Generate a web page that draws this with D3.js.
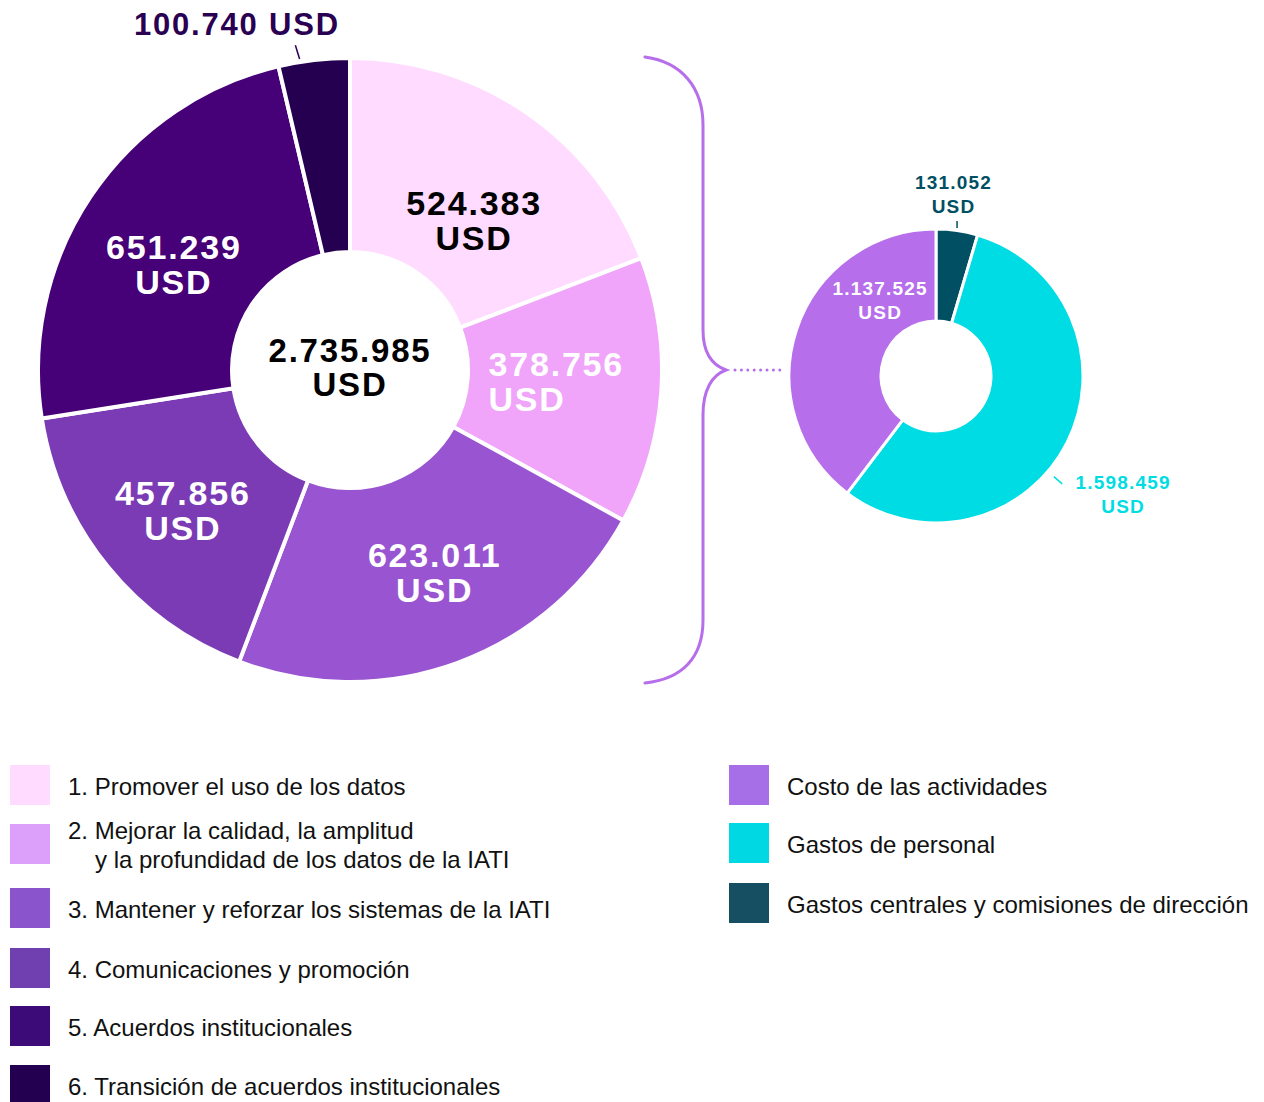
<!DOCTYPE html>
<html>
<head>
<meta charset="utf-8">
<script src="https://cdn.jsdelivr.net/npm/d3@7/dist/d3.min.js"></script>
<style>
  html, body { margin: 0; padding: 0; background: #fff; }
  svg { display: block; }
  text { font-family: "Liberation Sans", Arial, sans-serif; }
</style>
</head>
<body>
<svg id="chart" width="1264" height="1102"></svg>
<script>
// ---------- DATA ----------
const bigCategories = [
  "1. Promover el uso de los datos",
  "2. Mejorar la calidad, la amplitud|y la profundidad de los datos de la IATI",
  "3. Mantener y reforzar los sistemas de la IATI",
  "4. Comunicaciones y promoción",
  "5. Acuerdos institucionales",
  "6. Transición de acuerdos institucionales"
];
const bigValues = [524383, 378756, 623011, 457856, 651239, 100740];
const bigColors = ["#FFDBFF", "#F0A4FA", "#9955D1", "#7B3BB5", "#460078", "#250050"];
const bigLegendColors = ["#FFDBFF", "#DDA0FA", "#8A55CC", "#7140B0", "#3D0B78", "#230050"];
const bigLabelColors = ["#000000", "#FFFFFF", "#FFFFFF", "#FFFFFF", "#FFFFFF", "#2A0052"];

const smallCategories = [
  "Gastos centrales y comisiones de dirección",
  "Gastos de personal",
  "Costo de las actividades"
];
const smallValues = [131052, 1598459, 1137525];
const smallColors = ["#004F63", "#00DCE3", "#B76EEB"];
const smallLegendColors = ["#174F62", "#00D9E3", "#A66FE8"];
const smallLabelColors = ["#004F63", "#00DCE3", "#FFFFFF"];
const smallLegendOrder = [2, 1, 0];

const currency = "USD";

// ---------- LAYOUT ----------
const svg = d3.select("#chart");
const fmt = d3.formatLocale({decimal: ",", thousands: ".", grouping: [3], currency: ["", ""]}).format(",d");

const big = {cx: 350, cy: 370, r0: 118, r1: 312};
const small = {cx: 936, cy: 376, r0: 55, r1: 147};

// label placement: [mode, dx, dy, anchor]
const bigLabelPlace = [
  ["in", 8, 19, "middle"],
  ["in", -66, -3, "start"],
  ["in", 14, 10, "middle"],
  ["in", -8, 11, "middle"],
  ["in", -6, 9, "middle"],
  ["out", -75, -18, "middle"]
];
const smallLabelPlace = [
  ["out", -9, 1, "middle"],
  ["out", 22, 35, "middle"],
  ["in", 39, -44, "middle"]
];

const pie = d3.pie().sort(null).value(d => d).startAngle(0).endAngle(2 * Math.PI);

// ---------- BIG DONUT ----------
const gBig = svg.append("g").attr("transform", `translate(${big.cx},${big.cy})`);
const bigArc = d3.arc().innerRadius(big.r0).outerRadius(big.r1);
const bigLabelArc = d3.arc().innerRadius(205).outerRadius(205);
const bigOutArc = d3.arc().innerRadius(330).outerRadius(330);
const bigArcs = pie(bigValues);

gBig.selectAll("path.slice").data(bigArcs).join("path")
  .attr("class", "slice")
  .attr("d", bigArc)
  .attr("fill", (d, i) => bigColors[i])
  .attr("stroke", "#fff")
  .attr("stroke-width", 4)
  .attr("stroke-linejoin", "round");

bigArcs.forEach((a, i) => {
  const [mode, dx, dy, anchor] = bigLabelPlace[i];
  const label = fmt(a.data);
  if (mode === "in") {
    const [x, y] = bigLabelArc.centroid(a);
    const t = gBig.append("text")
      .attr("text-anchor", anchor)
      .attr("font-size", 34).attr("font-weight", 700)
      .attr("letter-spacing", 1.8)
      .attr("fill", bigLabelColors[i]);
    t.append("tspan").attr("x", x + dx).attr("y", y + dy - 17.5 + 12).text(label);
    t.append("tspan").attr("x", x + dx).attr("y", y + dy + 17.5 + 12).text(currency);
  } else {
    const [x, y] = bigOutArc.centroid(a);
    gBig.append("text")
      .attr("text-anchor", anchor)
      .attr("x", x + dx).attr("y", y + dy + 11)
      .attr("font-size", 31).attr("font-weight", 700)
      .attr("letter-spacing", 1.8)
      .attr("fill", bigLabelColors[i])
      .text(label + " " + currency);
    // leader line
    const ang = (a.startAngle + a.endAngle) / 2 - 0.045;
    const p1 = [Math.sin(ang) * 315, -Math.cos(ang) * 315];
    const p2 = [Math.sin(ang) * 329 - 2, -Math.cos(ang) * 329];
    gBig.append("line")
      .attr("x1", p1[0]).attr("y1", p1[1]).attr("x2", p2[0]).attr("y2", p2[1])
      .attr("stroke", bigLabelColors[i]).attr("stroke-width", 1.5);
  }
});

// total in center
const total = d3.sum(bigValues);
const tc = gBig.append("text").attr("text-anchor", "middle")
  .attr("font-size", 33).attr("font-weight", 700).attr("letter-spacing", 1.8).attr("fill", "#000");
tc.append("tspan").attr("x", 0).attr("y", -20 + 11.5).text(fmt(total));
tc.append("tspan").attr("x", 0).attr("y", 14 + 11.5).text(currency);

// ---------- BRACE ----------
const braceColor = "#B76EEB";
const bp = d3.path();
bp.moveTo(645, 57);
bp.bezierCurveTo(682, 62, 703, 88, 703, 125);
bp.lineTo(703, 330);
bp.bezierCurveTo(703, 352, 712, 365, 726, 370);
bp.bezierCurveTo(712, 375, 703, 390, 703, 415);
bp.lineTo(703, 620);
bp.bezierCurveTo(703, 658, 682, 679, 645, 683);
svg.append("path").attr("d", bp.toString())
  .attr("fill", "none").attr("stroke", braceColor).attr("stroke-width", 3).attr("stroke-linecap", "round");
svg.append("line")
  .attr("x1", 735).attr("y1", 370).attr("x2", 786).attr("y2", 370)
  .attr("stroke", braceColor).attr("stroke-width", 3)
  .attr("stroke-linecap", "round").attr("stroke-dasharray", "0 6.4");

// ---------- SMALL DONUT ----------
const gSmall = svg.append("g").attr("transform", `translate(${small.cx},${small.cy})`);
const smallArc = d3.arc().innerRadius(small.r0).outerRadius(small.r1);
const smallLabelArc = d3.arc().innerRadius(100).outerRadius(100);
const smallOutArc = d3.arc().innerRadius(185).outerRadius(185);
const smallArcs = pie(smallValues);

gSmall.selectAll("path.slice").data(smallArcs).join("path")
  .attr("class", "slice")
  .attr("d", smallArc)
  .attr("fill", (d, i) => smallColors[i])
  .attr("stroke", "#fff")
  .attr("stroke-width", 3);

const smallLeaderAngles = [null, 130.5, null];
smallArcs.forEach((a, i) => {
  const [mode, dx, dy, anchor] = smallLabelPlace[i];
  const [x, y] = (mode === "in" ? smallLabelArc : smallOutArc).centroid(a);
  const t = gSmall.append("text")
    .attr("text-anchor", anchor)
    .attr("font-size", 19).attr("font-weight", 700)
    .attr("letter-spacing", 1.2)
    .attr("fill", smallLabelColors[i]);
  t.append("tspan").attr("x", x + dx).attr("y", y + dy - 12 + 7).text(fmt(a.data));
  t.append("tspan").attr("x", x + dx).attr("y", y + dy + 12 + 7).text(currency);
  if (mode === "out") {
    if (i === 0) {
      const mid = (a.startAngle + a.endAngle) / 2;
      const xx = Math.sin(mid) * small.r1;
      gSmall.append("line").attr("x1", xx).attr("x2", xx)
        .attr("y1", -small.r1 - 1).attr("y2", -small.r1 - 8)
        .attr("stroke", smallLabelColors[i]).attr("stroke-width", 1.5);
    } else {
      const ang = smallLeaderAngles[i] * Math.PI / 180;
      gSmall.append("line")
        .attr("x1", Math.sin(ang) * 155).attr("y1", -Math.cos(ang) * 155)
        .attr("x2", Math.sin(ang) * 166).attr("y2", -Math.cos(ang) * 166)
        .attr("stroke", smallLabelColors[i]).attr("stroke-width", 1.5);
    }
  }
});

// ---------- LEGENDS ----------
const legendFont = 24;
const bigLegendRows = [765, 824, 888, 948, 1006, 1065];
const lg = svg.append("g");
bigCategories.forEach((c, i) => {
  const y0 = bigLegendRows[i];
  lg.append("rect").attr("x", 10).attr("y", y0).attr("width", 40).attr("height", 40)
    .attr("fill", bigLegendColors[i]);
  const lines = c.split("|");
  const t = lg.append("text").attr("font-size", legendFont).attr("fill", "#111");
  if (lines.length === 1) {
    t.append("tspan").attr("x", 68).attr("y", y0 + 30).text(lines[0]);
  } else {
    t.append("tspan").attr("x", 68).attr("y", y0 + 15).text(lines[0]);
    t.append("tspan").attr("x", 95).attr("y", y0 + 44).text(lines[1]);
  }
});

const smallLegendRows = [765, 823, 883];
smallLegendOrder.forEach((idx, k) => {
  const y0 = smallLegendRows[k];
  lg.append("rect").attr("x", 729).attr("y", y0).attr("width", 40).attr("height", 40)
    .attr("fill", smallLegendColors[idx]);
  lg.append("text").attr("x", 787).attr("y", y0 + 30).attr("font-size", legendFont).attr("fill", "#111")
    .text(smallCategories[idx]);
});
</script>
</body>
</html>
